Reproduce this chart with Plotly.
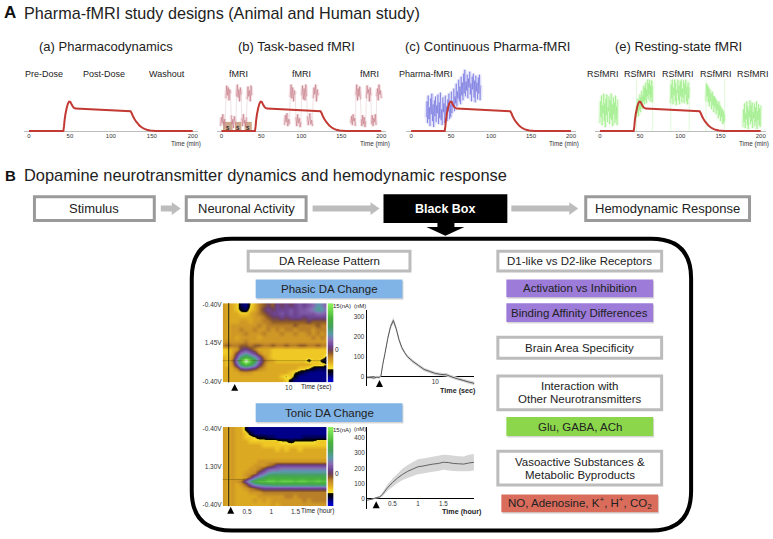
import numpy as np
import plotly.graph_objects as go

W, H = 773, 539
FONT = "Liberation Sans"

# ---------- data ----------
time_ticks = [0, 50, 100, 150, 200]
pk_time = [0, 42, 42.8, 43.5, 44.5, 46, 47.5, 49, 50.5, 52, 53.5, 55, 57, 124, 125.5, 127, 129, 131, 133, 135, 138, 141, 144, 148, 155, 200]
pk_level = [0, 0, 5, 11, 17, 23, 27.5, 29.8, 29.5, 27, 25, 23.5, 22.7, 20, 18, 15, 12, 9.5, 7.5, 5.5, 3.6, 2.2, 1.3, .6, .2, 0]

task_blocks = [
    [5, 14, 8, 17, 6, 12, 4, 33, 46, 36, 44, 31, 42, 38, 16, 7, 12, 3, 15, 9, 6, 35, 47, 34, 42, 30, 44, 37, 13, 5, 17, 8, 11, 4, 14, 32, 45, 35, 41, 30, 46, 36],
    [6, 16, 9, 18, 5, 12, 7, 34, 47, 33, 44, 30, 41, 37, 14, 5, 17, 8, 13, 4, 9, 36, 46, 32, 43, 31, 47, 35, 15, 6, 12, 18, 7, 11, 5, 33, 44, 37, 47, 30, 42, 36],
    [8, 15, 6, 17, 10, 13, 5, 36, 47, 31, 43, 35, 45, 32, 12, 5, 16, 7, 14, 4, 10, 33, 46, 38, 42, 30, 44, 36, 7, 16, 5, 13, 9, 17, 6, 35, 43, 31, 47, 37, 41, 33],
]
task_starts = [-1, 79, 162]
task_ends = [38, 121, 200]
stim_blocks = [(2, 14), (17, 25), (29, 38)]

pharma_signal = [14, 30, 8, 36, 12, 24, 5, 33, 17, 38, 10, 27, 4, 31, 15, 35, 9, 26, 18, 37, 7, 29, 13, 39, 11, 22, 6, 34, 19, 28, 8, 36, 16, 25, 10, 32, 20, 38, 12, 27, 14, 40, 18, 30, 24, 43, 20, 35, 28, 48, 25, 40, 33, 52, 30, 45, 27, 55, 36, 49, 31, 58, 38, 62, 35, 50, 41, 57, 33, 53, 44, 60, 37, 48, 30, 55, 42, 58, 34, 51, 29, 56, 40, 49, 32, 54, 38, 57, 31, 46]
pharma_start, pharma_end = 19, 87

rest_blocks = [
    [8, 30, 14, 36, 6, 26, 18, 38, 10, 28, 4, 33, 16, 37, 9, 24, 20, 35, 7, 31, 13, 38, 11, 27, 5, 34, 17, 29, 8, 36, 12, 25, 6, 32],
    [14, 26, 18, 33, 15, 29, 21, 37, 19, 34, 24, 41, 22, 36, 30, 46, 27, 44, 31, 49, 28, 42, 35, 52, 32, 48, 37, 52, 30, 46, 34, 51, 29, 45],
    [28, 47, 33, 52, 27, 44, 36, 52, 30, 49, 26, 42, 38, 52, 31, 46, 27, 50, 35, 52, 29, 43, 34, 51, 28, 48, 37, 52, 30, 45, 27, 49, 33, 44],
    [30, 48, 35, 46, 29, 44, 25, 42, 30, 38, 22, 40, 26, 36, 19, 35, 24, 33, 17, 31, 21, 28, 13, 30, 16, 26, 10, 24, 14, 22, 7, 20, 9, 17],
    [4, 22, 9, 28, 3, 18, 12, 30, 6, 25, 2, 21, 14, 31, 7, 26, 10, 29, 3, 19, 13, 28, 5, 24, 9, 30, 2, 20, 11, 27, 6, 23, 4, 26],
]
rest_starts = [0, 45.5, 88, 132, 178]
rest_ends = [22, 65.5, 111, 155, 200]

# fast-scan voltammetry colour plots (nA), rows run top to bottom of the plot
phasic_z = [
    [-2, -3, -3, -4, -7, -8, -5, -3, -1, 0, 1, 0, 2, 1, 2, 1, 2, 3, 2, 3, 4, 6, 5, 3],
    [-2, -3, -3, -4, -6, -7, -4, -3, -1, 1, 2, 1, 2, 2, 2, 3, 2, 3, 3, 4, 5, 7, 6, 4],
    [-2, -3, -3, -3, -4, -4, -3, -2, -1, 0, 1, 2, 2, 3, 2, 3, 2, 3, 3, 3, 3, 4, 4, 3],
    [-2, -3, -3, -3, -3, -3, -3, -2, -2, -1, 0, 1, 1, 2, 1, 2, 2, 2, 1, 2, 2, 2, 2, 2],
    [-2, -3, -3, -3, -2, -2, -3, -2, -2, -1, -1, 0, 0, 0, 0, 0, 0, 0, 0, 1, 0, 0, 0, 0],
    [-2, -3, -2, -2, -2, -2, -2, -2, -1, -2, -1, -1, -1, -1, -1, -1, 0, -1, -1, -1, -1, 0, -1, -1],
    [-2, -3, -2, -2, -1, -2, -2, -1, -2, -2, -1, -2, -1, -2, -1, -1, -2, -1, -1, -1, -2, -1, -1, -1],
    [-2, -3, -2, -2, -2, -1, -2, -2, -2, -1, -2, -2, -2, -1, -2, -2, -1, -2, -2, -1, -2, -1, -2, -1],
    [-2, -3, -2, -3, -2, -2, -2, -2, -3, -2, -2, -2, -2, -2, -2, -2, -2, -2, -2, -2, -1, -2, -1, -2],
    [-2, -2, -2, -2, -2, -1, -2, -2, -2, -2, -2, -2, -2, -2, -2, -2, -2, -2, -2, -2, -2, -2, -2, -2],
    [-1, 0, -1, -1, 0, 0, -1, 0, 0, -1, -1, 0, -1, -1, 0, -1, -1, 0, 0, -1, -1, 0, -1, -1],
    [-4, -4, -3, -2, 1, 2, 1, -1, -3, -3, -3, -4, -4, -4, -4, -4, -4, -4, -4, -4, -4, -4, -4, -4],
    [-4, -4, -3, 1, 4, 6, 4, 2, -1, -3, -3, -4, -4, -4, -4, -4, -4, -4, -4, -4, -4, -4, -4, -4],
    [-3, -4, -2, 3, 8, 11, 9, 6, 3, -1, -3, -4, -4, -4, -4, -4, -4, -4, -4, -4, -4, -4, -4, -6],
    [-3, -4, -1, 5, 12, 18, 14, 9, 4, 0, -2, -3, -4, -4, -4, -4, -4, -4, -4, -6, -4, -4, -6, -7],
    [-3, -4, -2, 3, 9, 12, 10, 6, 2, -1, -3, -3, -3, -3, -3, -3, -3, -3, -3, -3, -4, -4, -4, -5],
    [-3, -3, -3, -1, 2, 3, 2, 1, -1, -2, -3, -3, -3, -3, -3, -3, -3, -4, -4, -5, -6, -7, -7, -7],
    [-3, -3, -3, -3, -2, -2, -2, -3, -3, -3, -3, -3, -3, -3, -3, -4, -5, -6, -7, -8, -8, -8, -8, -8],
    [-3, -3, -3, -3, -3, -3, -3, -3, -3, -3, -3, -3, -3, -4, -5, -4, -6, -8, -8, -8, -8, -8, -8, -8],
    [-3, -3, -3, -3, -3, -3, -3, -3, -3, -3, -3, -3, -3, -3, -4, -6, -8, -8, -8, -8, -8, -8, -8, -8],
]
tonic_z = [
    [-2, -3, -2, -3, -3, -6, -8, -8, -8, -8, -8, -8, -8, -8, -8, -8, -8, -8, -8, -8, -8, -8, -8, -8],
    [-2, -3, -2, -3, -3, -4, -6, -8, -8, -8, -8, -8, -8, -8, -8, -8, -8, -8, -8, -8, -8, -8, -8, -8],
    [-2, -3, -2, -3, -3, -4, -4, -5, -6, -6, -7, -7, -8, -8, -8, -8, -8, -8, -7, -7, -7, -7, -7, -7],
    [-2, -3, -2, -3, -3, -3, -4, -4, -4, -4, -4, -4, -4, -5, -5, -6, -5, -5, -5, -5, -5, -4, -4, -4],
    [-2, -3, -2, -3, -3, -3, -3, -3, -3, -4, -4, -4, -4, -4, -4, -4, -4, -4, -4, -4, -4, -4, -4, -4],
    [-2, -3, -2, -3, -3, -3, -3, -3, -3, -3, -3, -3, -4, -3, -4, -3, -3, -4, -3, -3, -3, -3, -3, -3],
    [-2, -3, -2, -3, -3, -3, -3, -3, -3, -3, -3, -3, -3, -3, -3, -3, -3, -3, -3, -3, -3, -3, -3, -3],
    [-2, -3, -2, -3, -3, -3, -3, -3, -3, -3, -3, -3, -3, -3, -3, -3, -3, -3, -3, -3, -3, -3, -3, -3],
    [-2, -3, -2, -3, -3, -3, -3, -3, -2, -2, -2, -2, -2, -2, -2, -2, -2, -2, -2, -2, -2, -2, -2, -2],
    [-2, -3, -2, -3, -3, -3, -3, -2, -2, -2, -1, 0, 2, 2, 2, 2, 2, 2, 2, 2, 2, 2, 2, 2],
    [-2, -3, -2, -3, -3, -3, -2, -2, -1, 1, 3, 4, 4, 5, 5, 5, 5, 5, 5, 5, 5, 5, 5, 5],
    [-2, -3, -2, -3, -3, -2, -2, -1, 2, 4, 6, 7, 7, 7, 7, 7, 7, 7, 7, 7, 7, 7, 7, 7],
    [-2, -3, -2, -3, -3, -2, 0, 4, 6, 8, 10, 10, 10, 10, 10, 10, 10, 10, 10, 10, 10, 10, 10, 10],
    [-2, -3, -2, -2, -1, 3, 7, 10, 12, 12, 13, 13, 12, 13, 13, 13, 12, 13, 13, 12, 12, 13, 12, 12],
    [-2, -3, -2, -3, -2, 0, 3, 6, 7, 8, 8, 9, 9, 9, 9, 9, 9, 9, 9, 9, 9, 9, 9, 9],
    [-2, -3, -2, -3, -3, -2, -1, 0, 1, 2, 2, 2, 2, 2, 2, 2, 2, 2, 2, 2, 2, 2, 2, 2],
    [-2, -3, -2, -3, -3, -3, -2, -2, -2, -1, -1, -1, -1, -1, -1, -1, -1, -1, -1, -1, -1, -1, -1, -1],
    [-2, -3, -2, -3, -3, -3, -3, -3, -2, -2, -2, -2, -2, -2, -1, -1, -2, -1, -1, -1, -1, -1, -1, -1],
    [-2, -3, -2, -3, -3, -3, -3, -2, -3, -2, -3, -2, -2, -2, -2, -2, -2, -2, -1, -2, -1, -1, -1, -1],
    [-2, -3, -2, -3, -3, -3, -3, -3, -3, -3, -3, -2, -3, -2, -2, -2, -2, -2, -2, -2, -2, -2, -2, -2],
]
colorbar_levels = [-10.5, -9, -7, -6, -4.8, -4, -3, -2, -1, 0, 1, 2, 3, 4, 5, 6, 7, 8, 9, 10, 11, 12, 13, 14, 15]

phasic_time = [-2.2, -1.5, -1, -.5, 0, .3, .6, 1, 1.5, 2, 2.5, 3, 3.5, 4, 4.5, 5, 6, 7, 8, 9, 10, 11, 12, 13, 14, 15, 16, 17]
phasic_nm = [-5, -5, -8, -4, -5, 5, 60, 115, 190, 250, 280, 240, 185, 145, 120, 100, 75, 55, 35, 25, 15, 10, 8, -3, -12, -20, -28, -35]
phasic_err = [7, 7, 7, 7, 7, 7, 8, 10, 12, 14, 16, 13, 11, 10, 10, 9, 9, 9, 9, 9, 9, 9, 9, 9, 9, 9, 9, 9]
tonic_time = [0, .1, .18, .25, .3, .4, .5, .6, .7, .8, .9, 1, 1.1, 1.2, 1.3, 1.4, 1.5, 1.6, 1.7, 1.8, 1.9, 2, 2.1]
tonic_nm = [-12, -5, 5, 10, 25, 70, 105, 135, 160, 180, 195, 210, 215, 222, 228, 232, 240, 238, 232, 230, 228, 235, 240]
tonic_err = [3, 3, 5, 8, 14, 20, 26, 32, 38, 42, 46, 50, 50, 50, 50, 50, 50, 50, 50, 50, 50, 55, 55]

# ---------- pixel helpers ----------
def px(x): return x / W
def py(y): return 1 - y / H

RED, AXIS = "#c23a33", "#bdbdbd"
shapes, notes, traces, axes = [], [], [], {}

def text(x, y, s, size, color="#222", anchor="center", bold=False):
    notes.append(dict(x=px(x), y=py(y), xref="paper", yref="paper", text=f"<b>{s}</b>" if bold else s,
                      showarrow=False, xanchor=anchor, yanchor="middle",
                      font=dict(family=FONT, size=size, color=color), borderpad=0, borderwidth=0))

def rect(x0, y0, x1, y1, fill="white", line=None, lw=0, layer="above"):
    i = lw / 2
    shapes.append(dict(type="rect", xref="paper", yref="paper", x0=px(x0 + i), x1=px(x1 - i), y0=py(y0 + i), y1=py(y1 - i),
                       fillcolor=fill, line=dict(color=line or fill, width=lw), layer=layer))

def poly(points, fill):
    path = "M" + " L".join(f"{px(a):.5f},{py(b):.5f}" for a, b in points) + " Z"
    shapes.append(dict(type="path", xref="paper", yref="paper", path=path, fillcolor=fill, line=dict(width=0)))

def box(x0, y0, x1, y1, lines, size=11.5, line="#bcbcbc", lw=3):
    rect(x0, y0, x1, y1, "white", line, lw)
    mid = (y0 + y1) / 2
    n = len(lines)
    for k, s in enumerate(lines):
        text((x0 + x1) / 2, mid + (k - (n - 1) / 2) * 13, s, size)

def tag(x0, y0, x1, y1, s, fill, size=11.5):
    rect(x0 + 1, y0 + 1.5, x1 + 1, y1 + 1.5, "rgba(0,0,0,0.16)")
    rect(x0, y0, x1, y1, fill)
    text((x0 + x1) / 2, (y0 + y1) / 2, s, size)

def arrow_right(x0, x1, y, fill="#bdbdbd"):
    h = 3; head = 9; w = 6.5
    poly([(x0, y - h), (x1 - head, y - h), (x1 - head, y - w), (x1, y), (x1 - head, y + w), (x1 - head, y + h), (x0, y + h)], fill)

def tri(x, y, s=3.5):
    poly([(x - s, y + s), (x + s, y + s), (x, y - s)], "black")

def add_axes(n, xpx, ypx, xrange, yrange, xticks=None, yticks=None, ticktext=None, xpos=None, fs=6,
             ycolor="#333", yline=False, zero=None, reverse=False):
    xa, ya = f"xaxis{n}", f"yaxis{n}"
    axes[xa] = dict(domain=[px(xpx[0]), px(xpx[1])], range=xrange, showgrid=False, zeroline=False, showline=False,
                    ticks="", tickvals=xticks or [], ticktext=[str(t) for t in xticks] if xticks else [],
                    tickfont=dict(family=FONT, size=fs, color="#333"), anchor=f"y{n}" if xpos is None else "free",
                    fixedrange=True)
    if xpos is not None:
        axes[xa]["position"] = py(xpos)
    axes[ya] = dict(domain=[py(ypx[1]), py(ypx[0])], range=yrange[::-1] if reverse else yrange, showgrid=False,
                    zeroline=zero is not None, zerolinecolor=zero or "#000", zerolinewidth=1,
                    showline=yline, linecolor="black", linewidth=1, ticks="", ticklen=0,
                    tickvals=yticks or [], ticktext=ticktext if ticktext else ([str(t) for t in yticks] if yticks else []),
                    tickfont=dict(family=FONT, size=fs, color=ycolor), anchor=f"x{n}", fixedrange=True)

def line(n, x, y, color, width, **kw):
    traces.append(go.Scatter(x=x, y=y, mode="lines", xaxis=f"x{n}", yaxis=f"y{n}", hoverinfo="skip",
                             line=dict(color=color, width=width, simplify=False), showlegend=False, **kw))

# ---------- section A ----------
text(10.5, 10, "A", 17, "#111", bold=True)
text(24, 10, "Pharma-fMRI study designs (Animal and Human study)", 16.2, "#222", "left")
text(5, 174, "B", 15, "#111", "left", True)
text(24, 174, "Dopamine neurotransmitter dynamics and hemodynamic response", 16.4, "#222", "left")

panels = [(1, 29, 193), (2, 221.7, 381.7), (3, 411.7, 571.7), (4, 600.7, 761.7)]
subtitles = [(106, "(a) Pharmacodynamics"), (297, "(b) Task-based fMRI"), (488, "(c) Continuous Pharma-fMRI"), (679, "(e) Resting-state fMRI")]
for x, s in subtitles:
    text(x, 44, s, 13)
for (n, x0, x200) in panels:
    s = (x200 - x0) / 200
    add_axes(n, (x0 - 6 * s, x200 + 6 * s), (64.3, 132.3), [-6, 206], [-3, 65], xticks=time_ticks, zero=AXIS, xpos=129.5)
    text(x200 - 6.5, 142, "Time (min)", 6.3, "#333")

for x, s in [(44, "Pre-Dose"), (104, "Post-Dose"), (167, "Washout"), (239, "fMRI"), (302, "fMRI"), (370, "fMRI"),
             (427, "Pharma-fMRI"), (604, "RSfMRI"), (641, "RSfMRI"), (679, "RSfMRI"), (717, "RSfMRI"), (754, "RSfMRI")]:
    text(x, 72, s, 9)

# task blocks
s_b = 0.8
for a, b in stim_blocks:
    shapes.append(dict(type="rect", xref="paper", yref="paper", x0=px(221.7 + a * s_b), x1=px(221.7 + b * s_b),
                       y0=py(129), y1=py(120), fillcolor="#cda98c", line=dict(width=0), layer="below"))
    text(221.7 + (a + b) / 2 * s_b, 126.5, "S", 5, "#222", bold=True)
for sig, a, b in zip(task_blocks, task_starts, task_ends):
    t = np.linspace(a, b, len(sig))
    line(2, t, sig, "rgba(220,190,195,0.45)", 1)
    for k in range(0, len(sig), 7):
        line(2, t[k:k + 7], sig[k:k + 7], "rgba(210,140,150,0.25)", 3.5)
        line(2, t[k:k + 7], sig[k:k + 7], "rgba(185,85,100,0.55)", 0.6)

# continuous blue
t = np.linspace(pharma_start, pharma_end, len(pharma_signal))
line(3, t, pharma_signal, "rgba(120,120,235,0.2)", 4)
line(3, t, pharma_signal, "rgba(50,50,205,0.55)", 0.6)

# resting green
for sig, a, b in zip(rest_blocks, rest_starts, rest_ends):
    t = np.linspace(a, b, len(sig))
    line(4, t, sig, "rgba(170,245,140,0.28)", 3.5)
    line(4, t, sig, "rgba(120,230,95,0.6)", 0.6)
    if 40 < a < 170:
        for e in (a, b):
            line(4, [e, e], [0, 52], "rgba(170,240,150,0.45)", 0.8)

for (n, _, _) in panels:
    line(n, pk_time, pk_level, RED, 2)

# ---------- section B flow ----------
box(33, 194, 156, 221, ["Stimulus"], 13, "#9a9a9a")
box(185, 194, 308, 221, ["Neuronal Activity"], 13, "#9a9a9a")
rect(384, 193, 508, 222, "black")
text(446, 208, "Black Box", 12.5, "white", bold=True)
box(585, 194, 752, 221, ["Hemodynamic Response"], 13, "#9a9a9a")
arrow_right(161, 181, 207.5)
arrow_right(313, 380, 207.5)
arrow_right(512, 579, 207.5)
poly([(438, 222), (455, 222), (455, 226), (465, 226), (446, 235), (427, 226), (438, 226)], "black")

# large rounded frame
l, t_, r, b, c = 192, 238, 692, 532.5, 40
path = (f"M{px(l + c)},{py(t_)} L{px(r - c)},{py(t_)} Q{px(r)},{py(t_)} {px(r)},{py(t_ + c)} L{px(r)},{py(b - c)} "
        f"Q{px(r)},{py(b)} {px(r - c)},{py(b)} L{px(l + c)},{py(b)} Q{px(l)},{py(b)} {px(l)},{py(b - c)} "
        f"L{px(l)},{py(t_ + c)} Q{px(l)},{py(t_)} {px(l + c)},{py(t_)} Z")
shapes.append(dict(type="path", xref="paper", yref="paper", path=path, line=dict(color="black", width=4), layer="below"))

box(247, 249, 412, 272, ["DA Release Pattern"])
tag(256, 279, 403, 298, "Phasic DA Change", "#80b3e6")
tag(256, 404, 403, 423, "Tonic DA Change", "#80b3e6")
box(497, 249, 664, 272, ["D1-like vs D2-like Receptors"])
tag(507, 279, 654, 297, "Activation vs Inhibition", "#9c7bd9")
tag(507, 303, 654, 322, "Binding Affinity Differences", "#9c7bd9")
box(497, 336, 664, 360, ["Brain Area Specificity"])
box(497, 375, 664, 412, ["Interaction with", "Other Neurotransmitters"])
tag(507, 418, 654, 437, "Glu, GABA, ACh", "#8bd64b")
box(497, 451, 664, 488, ["Vasoactive Substances &", "Metabolic Byproducts"])
tag(502, 496, 659, 514, "NO, Adenosine, K<sup>+</sup>, H<sup>+</sup>, CO<sub>2</sub>", "#da6c5c")

# ---------- heat maps ----------
ZMIN, ZMAX = -11, 18
stops = [(-11, "#0000e0"), (-8, "#000088"), (-6.5, "#00003a"), (-5.6, "#000000"), (-5.1, "#1a1400"), (-4.9, "#f8e434"), (-4, "#efc826"),
         (-3, "#dcaa22"), (-2, "#cf9826"), (-1, "#b87f28"), (0, "#8c5a28"), (1, "#6e4060"), (2, "#6d4492"), (4, "#8a6ab4"), (6, "#5a9aac"),
         (8, "#47a060"), (11, "#49b23c"), (15, "#86f05a"), (16.5, "#d8ffd0"), (18, "#ffffff")]
scale = [[(v - ZMIN) / (ZMAX - ZMIN), c] for v, c in stops]

def heat(n, z, xpx, ypx, tr, xticks, labels):
    ncol, nrow = len(z[0]), len(z)
    x = np.linspace(tr[0], tr[1], ncol)
    add_axes(n, xpx, ypx, tr, [-.5, nrow - .5], xticks=xticks, yticks=[-.2, (nrow - 1) / 2, nrow - .8], ticktext=labels,
             reverse=True, fs=6.5)
    traces.append(go.Heatmap(z=z, x=x, y=list(range(nrow)), xaxis=f"x{n}", yaxis=f"y{n}", colorscale=scale, zmin=ZMIN, zmax=ZMAX,
                             zsmooth="best", showscale=False, hoverinfo="skip"))

heat(5, phasic_z, (223, 327), (303, 383), [-2.2, 17], [10], ["-0.40V", "1.45V", "-0.40V"])
heat(6, tonic_z, (223, 327), (428, 508), [0, 2.14], [.5, 1, 1.5], ["-0.40V", "1.30V", "-0.40V"])
bar = [[v] for v in colorbar_levels[::-1]]
for n, (y0, y1) in ((7, (303, 383)), (8, (428, 508))):
    add_axes(n, (328, 334), (y0, y1), [-.5, .5], [-.5, len(bar) - .5], reverse=True)
    traces.append(go.Heatmap(z=bar, xaxis=f"x{n}", yaxis=f"y{n}", colorscale=scale, zmin=ZMIN, zmax=ZMAX, zsmooth="best",
                             showscale=False, hoverinfo="skip"))
for y, yh in ((303, 361), (428, 481)):
    text(333.5, y + 2.5, "15(nA)", 6, anchor="left")
    text(337, y + 47, "0", 6.5)
    shapes.append(dict(type="line", xref="paper", yref="paper", x0=px(229), x1=px(229), y0=py(y), y1=py(y + 80),
                       line=dict(color="#2a2210", width=1)))
    shapes.append(dict(type="line", xref="paper", yref="paper", x0=px(223), x1=px(327 if y == 303 else 245), y0=py(yh), y1=py(yh),
                       line=dict(color="rgba(70,60,0,0.45)", width=0.7)))
text(316.5, 388, "Time (sec)", 6.5)
text(318, 513, "Time (hour)", 6.5)
tri(235, 388); tri(231, 512)

# ---------- FSCV concentration traces ----------
add_axes(9, (367, 475), (310, 387), [-2.3, 17], [-50, 332], xticks=[10], yticks=[0, 100, 200, 300], xpos=377.5, zero="#000", yline=True, fs=6.3)
add_axes(10, (367.5, 475), (428, 511), [0, 2.11], [-72, 474], xticks=[.5, 1, 1.5], yticks=[0, 100, 200, 300, 400], xpos=500, zero="#000", yline=True, fs=6.3)

def band(n, x, m, e, fill):
    up = [a + b for a, b in zip(m, e)]
    lo = [a - b for a, b in zip(m, e)]
    traces.append(go.Scatter(x=list(x) + list(x)[::-1], y=up + lo[::-1], mode="lines", fill="toself", fillcolor=fill, xaxis=f"x{n}",
                             yaxis=f"y{n}", line=dict(width=0), hoverinfo="skip", showlegend=False))

band(9, phasic_time, phasic_nm, phasic_err, "#d6d6d6")
line(9, phasic_time, phasic_nm, "#555", 1)
band(10, tonic_time, tonic_nm, tonic_err, "#d6d6d6")
line(10, tonic_time, tonic_nm, "#555", 0.9)
text(360, 305.5, "(nM)", 6); text(360, 430, "(nM)", 6)
text(459, 391, "Time (sec)", 7.2, bold=True)
text(463, 513, "Time (hour)", 7.2, bold=True)
tri(380, 384); tri(376.7, 506.5)

fig = go.Figure(traces)
fig.update_layout(width=W, height=H, margin=dict(l=0, r=0, t=0, b=0, pad=0), paper_bgcolor="white", plot_bgcolor="rgba(0,0,0,0)",
                  showlegend=False, shapes=shapes, annotations=notes, hovermode=False, font=dict(family=FONT), **axes)
fig.write_html("out.html", config=dict(displayModeBar=False),
               post_script="document.documentElement.style.margin='0';document.body.style.margin='0';document.body.style.overflow='hidden';")
